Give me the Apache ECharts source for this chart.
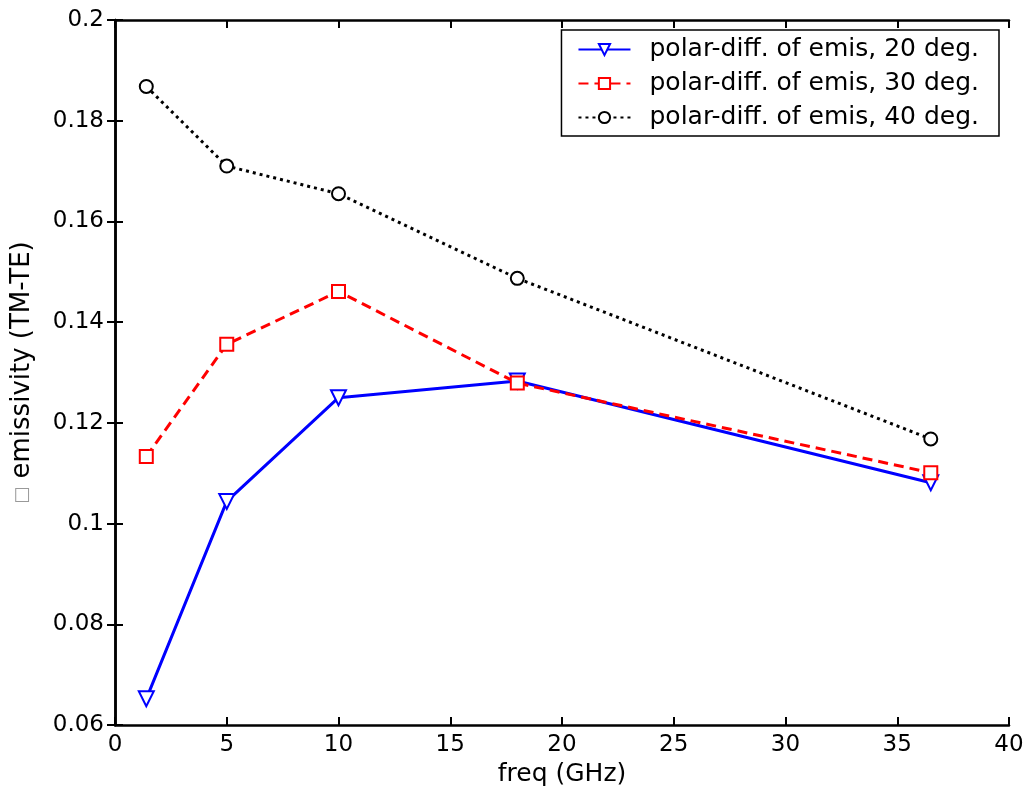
<!DOCTYPE html>
<html>
<head>
<meta charset="utf-8">
<script src="https://cdn.jsdelivr.net/npm/echarts@6/dist/echarts.min.js"></script>
<style>
  html, body { margin: 0; padding: 0; background: #fff; }
  #main { width: 1027px; height: 795px; }
</style>
</head>
<body>
<div id="main"></div>
<script>
// frequencies (GHz)
var freq = [1.4, 5, 10, 18, 36.5];

// polar-diff of emissivity
var deg20 = [0.0652, 0.1044, 0.1250, 0.1283, 0.1081];
var deg30 = [0.1133, 0.1356, 0.1461, 0.1279, 0.1101];
var deg40 = [0.1868, 0.1710, 0.1655, 0.1487, 0.1168];

var seriesNames = [
    'polar-diff. of emis, 20 deg.',
    'polar-diff. of emis, 30 deg.',
    'polar-diff. of emis, 40 deg.'
];

function pairs(ys) {
    return freq.map(function (f, i) { return [f, ys[i]]; });
}

var chart = echarts.init(document.getElementById('main'));

var font = 'DejaVu Sans, sans-serif';

// box axes: ticks inside, no grid lines
var boxX = {
    type: 'value', min: 0, max: 40, interval: 5,
    axisLine: { show: true, lineStyle: { color: '#000', width: 2.5 } },
    axisTick: { show: true, inside: true, length: 8, lineStyle: { color: '#000', width: 2 } },
    splitLine: { show: false }
};
var boxY = {
    type: 'value', min: 0.06, max: 0.2, interval: 0.02,
    axisLine: { show: true, lineStyle: { color: '#000', width: 2.5 } },
    axisTick: { show: true, inside: true, length: 8, lineStyle: { color: '#000', width: 2 } },
    splitLine: { show: false }
};

var option = {
    backgroundColor: '#ffffff',
    animation: false,
    textStyle: { fontFamily: font },
    grid: { left: 115, right: 18, top: 20, bottom: 70 },
    legend: {
        top: 30,
        right: 28,
        orient: 'vertical',
        align: 'left',
        backgroundColor: '#fff',
        borderColor: '#000',
        borderWidth: 1.5,
        padding: [7, 20, 6, 16],
        itemWidth: 52,
        itemHeight: 14,
        itemGap: 9,
        textStyle: {
            fontSize: 25, color: '#000', fontFamily: font,
            padding: [0, 0, 0, 14]
        },
        data: seriesNames
    },
    xAxis: [
        Object.assign({}, boxX, {
            position: 'bottom',
            name: 'freq (GHz)',
            nameLocation: 'middle',
            nameGap: 37,
            nameTextStyle: { fontSize: 25, color: '#000' },
            axisLabel: {
                fontSize: 23, color: '#000', margin: 9,
                formatter: function (v) { return String(v); }
            }
        }),
        Object.assign({}, boxX, { position: 'top', axisLabel: { show: false } })
    ],
    yAxis: [
        Object.assign({}, boxY, {
            position: 'left',
            name: '{box|\u25A1} emissivity (TM-TE)',
            nameLocation: 'middle',
            nameGap: 80,
            nameTextStyle: {
                fontSize: 26, color: '#000',
                rich: { box: { fontSize: 18, color: '#999' } }
            },
            axisLabel: {
                fontSize: 23, color: '#000', margin: 11,
                formatter: function (v) { return String(+v.toFixed(2)); }
            }
        }),
        Object.assign({}, boxY, { position: 'right', axisLabel: { show: false } })
    ],
    series: [
        {
            name: seriesNames[0],
            type: 'line',
            data: pairs(deg20),
            symbol: 'emptyTriangle',
            symbolRotate: 180,
            symbolSize: 15,
            color: '#0000ff',
            itemStyle: { color: '#0000ff', borderWidth: 3 },
            lineStyle: { color: '#0000ff', width: 3, type: 'solid' }
        },
        {
            name: seriesNames[1],
            type: 'line',
            data: pairs(deg30),
            symbol: 'emptyRect',
            symbolSize: 13,
            color: '#ff0000',
            itemStyle: { color: '#ff0000', borderWidth: 3.5 },
            lineStyle: { color: '#ff0000', width: 3, type: [10, 6] }
        },
        {
            name: seriesNames[2],
            type: 'line',
            data: pairs(deg40),
            symbol: 'emptyCircle',
            symbolSize: 13,
            color: '#000000',
            itemStyle: { color: '#000000', borderWidth: 3.5 },
            lineStyle: { color: '#000000', width: 3, type: [3, 4] }
        }
    ]
};

chart.setOption(option);
</script>
</body>
</html>
